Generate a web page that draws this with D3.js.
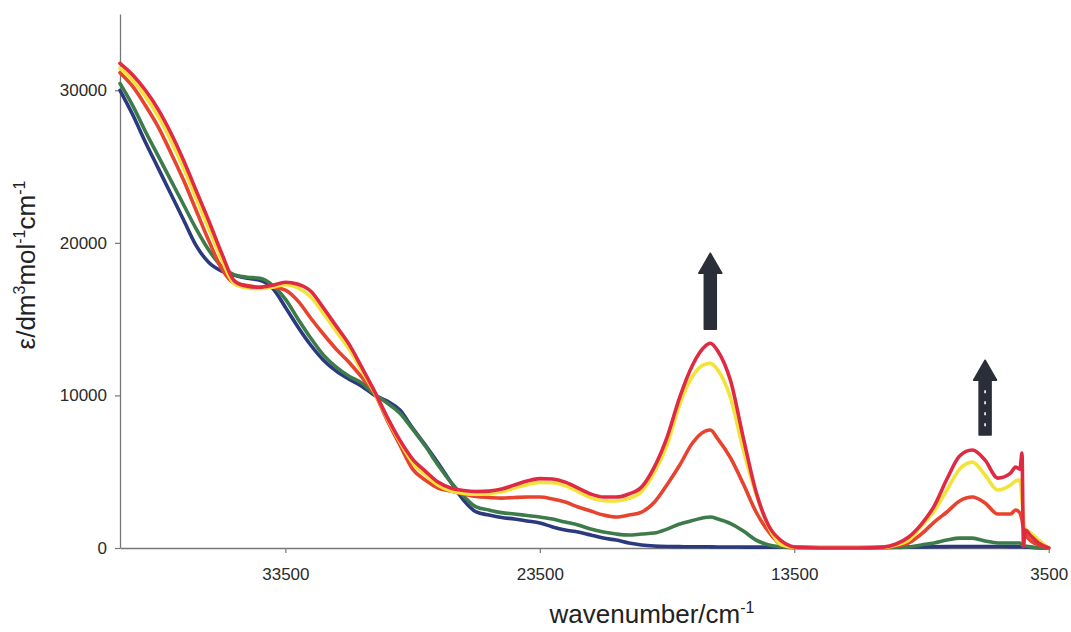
<!DOCTYPE html>
<html><head><meta charset="utf-8">
<script src="https://cdn.jsdelivr.net/npm/d3@7"></script>
<style>body{margin:0;background:#fff}</style>
</head><body>
<svg id="chart" width="1071" height="632"></svg>
<script>
const wavenumbers = [40000,39500,39000,38500,38000,37500,37000,36500,36000,35500,35000,34500,34000,33500,33000,32500,32000,31500,31000,30500,30000,29500,29000,28500,28000,27500,27000,26500,26000,25500,25000,24500,24000,23500,23000,22500,22000,21500,21000,20500,20000,19500,19000,18500,18000,17500,17000,16800,16500,16000,15500,15000,14500,14000,13500,13000,12000,11000,10000,9500,9000,8500,8000,7500,7000,6500,6000,5500,5000,4800,4630,4550,4490,4430,4200,3900,3500];

const blueVals = [30000,28400,26600,24900,23200,21500,19800,18700,18150,17880,17680,17550,17030,15780,14470,13290,12310,11590,11070,10610,10020,9630,9040,7860,6750,5570,4320,3140,2360,2160,2000,1900,1770,1640,1380,1180,1050,850,650,520,330,200,130,100,90,80,80,75,70,70,60,60,50,50,40,40,30,30,40,50,60,70,80,90,100,100,100,100,90,90,80,80,70,60,40,20,0];

const greenVals = [30450,29000,27300,25700,24100,22500,20900,19500,18450,17900,17750,17680,17220,16310,15000,13750,12640,11850,11260,10810,10090,9500,8840,7790,6680,5440,4320,3410,2690,2490,2320,2230,2130,2030,1900,1700,1510,1240,1050,920,850,920,980,1240,1570,1800,2000,2030,1900,1600,1110,520,200,70,30,20,20,20,20,30,70,200,330,520,650,650,460,330,330,330,330,200,130,130,60,0,0];

const redVals = [31150,30250,29000,27600,25900,24100,22100,20100,18300,17350,17200,17090,17090,16900,16180,15060,14010,13030,12180,11200,10150,8380,6750,5170,4450,3930,3730,3540,3370,3310,3270,3310,3340,3340,3210,3010,2690,2420,2160,2030,2160,2350,3000,4150,5440,6880,7660,7730,7140,5890,4190,2360,1050,200,30,20,20,20,30,130,330,920,1700,2360,3080,3340,2950,2230,2230,2490,2290,1830,1310,980,460,200,0];

const yellowVals = [31450,30650,29600,28300,26700,24900,22900,20900,18900,17300,17050,17000,17100,17250,17050,16450,15350,14200,13050,11620,10200,8500,6950,5600,4800,4120,3750,3580,3520,3560,3680,3920,4150,4300,4280,4080,3700,3300,3100,3080,3250,3700,4950,6750,9430,11260,12050,12100,11660,9820,6420,3550,1350,200,30,10,0,0,30,200,520,1440,2420,3800,5170,5630,4780,3800,4130,4390,4450,3140,1830,1310,980,520,0];

const crimsonVals = [31760,31000,30000,28750,27200,25400,23400,21400,19300,17500,17160,17090,17220,17420,17290,16830,15720,14540,13360,11850,10280,8580,7070,5830,5040,4320,3930,3770,3700,3730,3860,4130,4390,4550,4520,4320,3930,3540,3340,3340,3540,4000,5300,7250,9890,11980,13230,13420,12900,10940,7200,3670,1440,460,70,20,0,0,60,260,720,1570,2750,4520,6030,6420,5760,4580,4910,5300,5170,6220,130,1180,790,330,0];

const seriesNames = ["blue", "green", "red", "yellow", "crimson"];
const seriesColors = ["#2b3a7e", "#3d7b4a", "#e8432e", "#f2e33a", "#e02a44"];
const seriesValues = [blueVals, greenVals, redVals, yellowVals, crimsonVals];

const xTicks = [33500, 23500, 13500, 3500];
const yTicks = [0, 10000, 20000, 30000];

// annotation arrows: [wavenumber, base value, tip value]
const arrows = [[16800, 14340, 19320], [6000, 7400, 12310]];

const FONT = "'Liberation Sans', Arial, sans-serif";
const svg = d3.select("#chart");
const x = d3.scaleLinear().domain([40000, 3500]).range([120, 1048.7]);
const y = d3.scaleLinear().domain([0, 35000]).range([548, 14]);

// axes
const yAxis = svg.append("g").attr("transform", "translate(120,0)")
  .call(d3.axisLeft(y).tickValues(yTicks).tickSize(5).tickSizeOuter(0).tickPadding(8).tickFormat(d3.format("d")));
const xAxis = svg.append("g").attr("transform", "translate(0,548)")
  .call(d3.axisBottom(x).tickValues(xTicks).tickSize(5).tickSizeOuter(0).tickPadding(15).tickFormat(d3.format("d")));
[yAxis, xAxis].forEach(g => {
  g.select(".domain").attr("stroke", "#777").attr("stroke-width", 1.3);
  g.selectAll(".tick line").attr("stroke", "#777").attr("stroke-width", 1.2);
  g.selectAll(".tick text").attr("fill", "#2a2a2a").style("font-family", FONT).style("font-size", "17px");
});

// lines
const line = d3.line().x(d => x(d[0])).y(d => y(d[1])).curve(d3.curveMonotoneX);
seriesValues.forEach((vals, i) => {
  const pts = wavenumbers.map((w, j) => [w, vals[j]]);
  svg.append("path").datum(pts)
    .attr("d", line)
    .attr("fill", "none")
    .attr("stroke", seriesColors[i])
    .attr("stroke-width", 3.6)
    .attr("stroke-linejoin", "round")
    .attr("stroke-linecap", "round")
    .attr("class", "series-" + seriesNames[i]);
});

// arrows
arrows.forEach((a, i) => {
  const cx = x(a[0]), yb = y(a[1]), yt = y(a[2]);
  const hl = 20, hw = 11.5, sw = 6;
  svg.append("path")
    .attr("d", `M${cx-sw},${yb} L${cx-sw},${yt+hl} L${cx-hw},${yt+hl} L${cx},${yt} L${cx+hw},${yt+hl} L${cx+sw},${yt+hl} L${cx+sw},${yb} Z`)
    .attr("fill", "#2a2e38").attr("stroke", "#2a2e38").attr("stroke-width", 1.5).attr("stroke-linejoin", "round");
  if (i === 1) {
    svg.append("line").attr("x1", cx).attr("x2", cx).attr("y1", yt + hl + 10).attr("y2", yb - 4)
      .attr("stroke", "#fff").attr("stroke-width", 1.6).attr("stroke-dasharray", "3,8");
  }
});

// axis titles
const xt = svg.append("text").attr("x", 652).attr("y", 623).attr("text-anchor", "middle")
  .style("font-family", FONT).style("font-size", "26px").attr("fill", "#222");
xt.append("tspan").text("wavenumber/cm");
xt.append("tspan").attr("dy", -10).style("font-size", "16px").text("-1");

const yt = svg.append("text").attr("transform", "translate(35,265) rotate(-90)").attr("text-anchor", "middle")
  .style("font-family", FONT).style("font-size", "26px").attr("fill", "#222");
yt.append("tspan").text("ε/dm");
yt.append("tspan").attr("dy", -10).style("font-size", "16px").text("3");
yt.append("tspan").attr("dy", 10).text("mol");
yt.append("tspan").attr("dy", -10).style("font-size", "16px").text("-1");
yt.append("tspan").attr("dy", 10).text("cm");
yt.append("tspan").attr("dy", -10).style("font-size", "16px").text("-1");
</script>
</body></html>
